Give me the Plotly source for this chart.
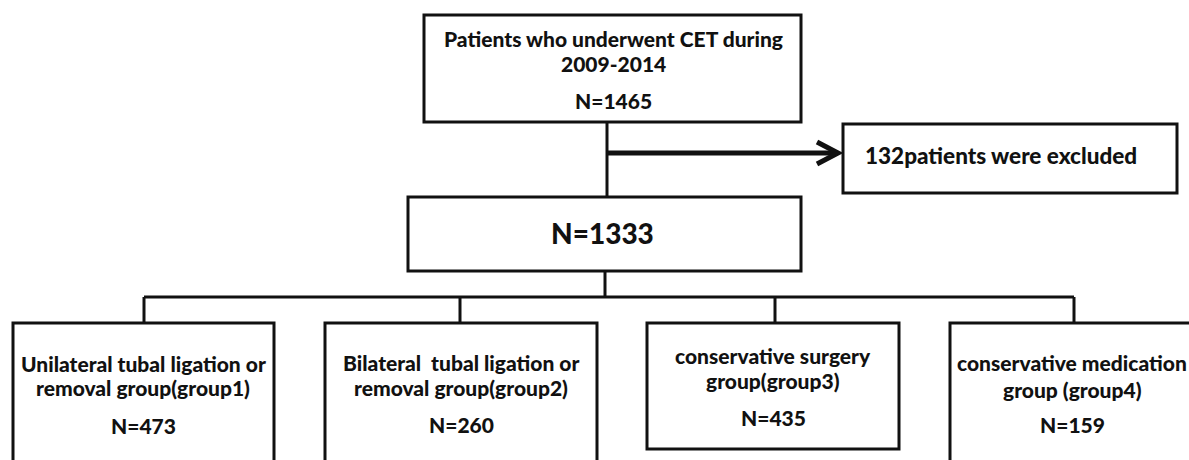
import plotly.graph_objects as go

# ---- data ----
top_lines = ["Patients who underwent CET during", "2009-2014"]
top_n = 1465
excluded_n = 132
excluded_text = "patients were excluded"
included_n = 1333
group_lines = [
    ["Unilateral tubal ligation or", "removal group(group1)"],
    ["Bilateral  tubal ligation or", "removal group(group2)"],
    ["conservative surgery", "group(group3)"],
    ["conservative medication", "group (group4)"],
]
group_n = [473, 260, 435, 159]

# ---- layout (pixel coordinates) ----
W, H = 1189, 460
FONT = "Lato"
INK = "#111111"

top_box = (424, 801, 15, 122)
excl_box = (843, 1177, 124, 193)
incl_box = (408, 801, 197, 271)
group_boxes = [(13, 274, 323, 475), (325, 597, 323, 475), (647, 899, 323, 449), (950, 1200, 323, 475)]
group_text_x = [143, 461, 773, 1072]
group_text_y = [(363, 387, 425), (362, 387, 424), (355, 380, 417), (362, 389, 424)]
branch_x = [144, 460, 775, 1074]

fig = go.Figure()
fig.add_trace(go.Scatter(x=[0, W], y=[0, H], mode="markers", marker=dict(opacity=0), hoverinfo="skip", showlegend=False))

shapes = []
def box(b):
    shapes.append(dict(type="rect", xref="x", yref="y", x0=b[0], x1=b[1], y0=b[2], y1=b[3],
                       line=dict(color=INK, width=3), fillcolor="rgba(0,0,0,0)"))
def line(x0, y0, x1, y1, w=3):
    shapes.append(dict(type="line", xref="x", yref="y", x0=x0, y0=y0, x1=x1, y1=y1,
                       line=dict(color=INK, width=w)))

box(top_box); box(excl_box); box(incl_box)
for b in group_boxes:
    box(b)

# connectors
line(607, top_box[3], 607, incl_box[2], 3)
line(607, 153, 836, 153, 5)
shapes.append(dict(type="path", xref="x", yref="y", path="M 817 142 L 838 153 L 817 164",
                   line=dict(color=INK, width=5)))
line(605, incl_box[3], 605, 297, 3)
line(branch_x[0], 297, branch_x[-1], 297, 3)
for bx in branch_x:
    line(bx, 297, bx, 323, 3)

ann = []
def text(x, y, s, size=21):
    ann.append(dict(x=x, y=y, xref="x", yref="y", text=s, showarrow=False,
                    font=dict(family=FONT, size=size, color=INK, weight=900),
                    xanchor="center", yanchor="middle"))

text(613, 38, top_lines[0])
text(613, 63, top_lines[1])
text(613, 100, f"N={top_n}")
text(1001, 155, f"{excluded_n}{excluded_text}", size=22.5)
text(602, 233, f"N={included_n}", size=28)
for gx, gy, gl, gn in zip(group_text_x, group_text_y, group_lines, group_n):
    text(gx, gy[0], gl[0])
    text(gx, gy[1], gl[1])
    text(gx, gy[2], f"N={gn}")

fig.update_layout(
    width=W, height=H, autosize=False,
    margin=dict(l=0, r=0, t=0, b=0),
    paper_bgcolor="white", plot_bgcolor="white",
    shapes=shapes, annotations=ann, showlegend=False,
    xaxis=dict(range=[0, W], visible=False, fixedrange=True),
    yaxis=dict(range=[H, 0], visible=False, fixedrange=True),
)
fig.write_html("out.html", config={"displayModeBar": False},
               post_script="document.body.style.margin='0';document.body.style.overflow='hidden';")
